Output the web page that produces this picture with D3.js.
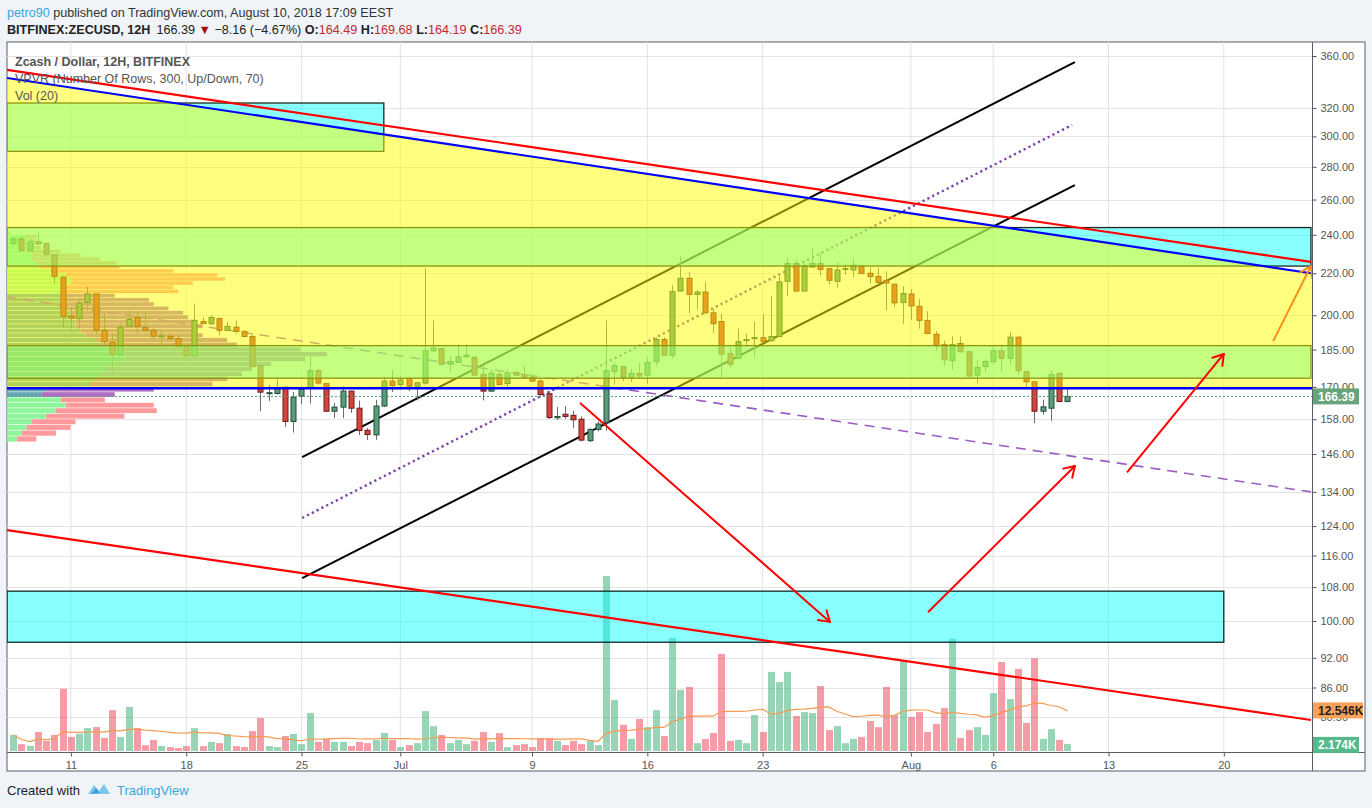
<!DOCTYPE html>
<html><head><meta charset="utf-8">
<script src="https://cdn.jsdelivr.net/npm/d3@7"></script>
<style>
body{margin:0;background:#f0f3f7;}
svg{display:block;font-family:"Liberation Sans",Arial,sans-serif;}
</style></head>
<body><svg id="c" width="1372" height="808"></svg>
<script>
// ---------------- DATA ----------------
const firstBar = "2018-06-07T12:00";
const barHours = 12;
// [open, high, low, close]
const candles = [
[235.3,239.3,234.1,237.9],[237.9,239.3,231.1,231.5],[231.5,237.5,231.1,236.2],[236.3,241.1,234.9,235.1],[235.3,236.3,228.5,229.7],
[229.4,229.6,214.9,218.4],[218.1,218.5,194.7,199.4],[199.7,203.8,194.0,198.8],[198.5,207.8,194.0,205.6],[205.9,213.3,202.2,209.9],
[209.9,210.0,191.6,193.3],[193.3,200.6,186.6,188.4],[188.0,191.9,175.0,182.9],[182.9,196.2,182.4,194.6],[195.0,202.2,194.7,198.1],
[199.0,201.4,191.9,195.0],[194.6,201.8,193.0,193.3],[193.3,194.7,189.5,190.7],[190.4,193.3,185.9,190.9],[190.7,191.9,188.8,189.7],
[189.7,191.9,185.9,186.3],[186.8,187.2,182.2,182.4],[182.4,205.4,182.0,197.7],[197.2,199.1,196.0,196.3],[196.2,200.1,195.4,199.0],
[198.5,199.1,191.0,193.3],[193.3,196.9,193.0,195.0],[194.7,197.7,191.9,192.8],[192.8,193.3,190.3,190.6],[190.6,191.6,177.8,178.0],
[178.4,178.6,160.9,168.0],[167.6,170.9,164.6,167.8],[167.5,173.0,167.1,169.6],[169.9,170.2,155.2,157.2],[157.2,168.1,153.3,166.1],
[166.5,170.3,163.4,169.1],[169.6,182.4,163.7,176.4],[176.4,177.3,170.9,171.5],[171.3,171.5,160.7,160.9],[160.9,164.0,158.4,162.4],
[162.4,170.3,158.4,168.4],[168.4,168.6,160.3,162.0],[162.0,164.8,152.4,154.0],[154.1,154.8,150.7,152.6],[152.5,165.1,150.7,162.8],
[162.8,173.9,162.5,172.3],[172.3,176.8,168.1,170.5],[170.9,174.3,169.0,172.7],[173.3,173.6,168.4,170.3],[170.3,171.8,164.9,171.6],
[171.5,222.5,170.9,184.5],[184.5,197.7,184.2,185.7],[185.4,185.8,178.5,179.0],[179.0,182.4,175.7,180.1],[179.7,187.1,179.4,182.0],
[182.0,187.1,181.8,182.7],[181.8,182.3,174.3,174.6],[174.9,178.4,164.9,168.4],[168.4,177.0,168.2,175.4],[174.9,176.4,170.7,170.9],
[171.3,177.0,169.6,175.5],[175.7,176.4,174.3,174.6],[174.9,178.4,173.5,173.7],[173.9,174.2,172.0,172.3],[172.3,173.0,166.5,167.1],
[167.4,168.4,158.1,158.6],[158.5,162.5,157.8,159.0],[159.8,162.8,158.1,159.0],[159.4,161.1,154.8,157.8],[158.0,159.0,150.2,150.7],
[150.5,154.8,150.0,154.4],[154.4,157.2,153.7,156.3],[156.8,197.7,153.9,176.4],[176.0,179.7,170.9,178.4],[178.0,178.4,172.3,173.7],
[173.7,177.0,172.0,175.3],[175.3,179.7,173.0,174.3],[174.6,181.8,171.2,179.7],[180.0,190.3,178.4,189.3],[189.3,190.3,182.4,182.7],
[182.7,214.1,181.4,211.0],[211.3,228.5,211.0,217.5],[217.5,220.5,201.0,209.7],[209.7,211.8,202.5,210.8],[210.8,215.7,200.8,201.1],
[201.1,203.0,192.2,196.2],[197.2,200.6,173.7,183.1],[183.4,185.9,177.7,179.0],[181.4,194.0,181.1,188.4],[188.8,191.9,186.2,189.3],
[189.7,197.2,181.8,190.1],[190.1,200.6,188.1,188.4],[188.8,209.1,188.1,190.6],[190.6,218.4,190.3,215.7],[216.0,228.0,208.9,224.9],
[224.9,227.1,211.0,211.3],[211.3,224.9,211.0,223.7],[223.1,232.7,222.8,224.9],[224.9,230.1,218.9,221.9],[222.3,222.6,214.4,216.5],
[216.0,225.4,212.9,221.6],[221.9,224.9,219.2,222.4],[221.6,227.5,218.1,224.0],[223.5,223.8,219.6,219.8],[220.0,222.8,214.9,218.4],
[218.4,222.8,214.5,215.4],[216.5,221.0,202.2,215.2],[214.6,214.9,203.5,205.7],[205.9,213.7,196.2,210.1],[209.9,212.2,197.9,204.3],
[204.1,207.5,194.0,197.7],[197.7,201.9,191.6,191.9],[191.6,192.9,184.7,186.6],[187.1,188.8,178.4,180.8],[180.4,190.7,176.8,187.1],
[187.6,190.6,183.8,184.1],[184.1,184.3,173.7,174.3],[174.6,180.8,171.3,177.7],[178.0,181.1,176.0,180.1],[180.0,186.6,179.0,184.5],
[184.5,187.1,176.1,181.4],[181.4,192.5,179.0,190.3],[190.3,191.0,175.0,176.4],[176.0,176.3,169.0,172.0],[172.0,172.4,156.6,160.9],
[160.9,165.2,159.6,162.5],[162.0,176.5,157.4,174.8],[175.3,175.7,164.4,164.5],[164.49,169.68,164.19,166.39]
];
// volume in thousands
const volumes = [
4.9,2.1,1.6,5.8,3.1,4.9,19.0,4.3,5.3,7.0,
7.3,4.0,12.5,4.3,13.5,7.0,1.8,3.4,1.5,1.2,
0.9,1.5,7.0,1.5,2.8,2.4,5.2,1.5,1.2,6.1,
10.1,1.5,1.2,4.6,5.2,2.1,11.6,2.8,3.7,2.8,
2.8,1.5,2.8,2.4,3.4,5.5,3.4,1.2,1.8,2.4,
12.2,7.6,4.9,2.4,3.4,2.1,3.1,5.8,2.8,5.5,
1.2,1.8,2.1,1.2,4.0,4.0,3.1,1.8,3.1,2.1,
3.1,1.8,53.5,15.6,8.0,3.7,9.8,7.3,12.5,4.6,
34.6,18.7,19.6,2.4,3.7,5.5,29.7,3.1,3.4,2.4,
11.0,5.8,24.2,21.1,24.2,10.7,11.9,11.6,19.9,6.4,
7.6,2.4,3.7,4.3,9.2,7.3,19.6,11.0,27.5,10.4,
11.9,5.8,8.3,13.1,34.3,4.0,6.4,7.3,4.9,17.7,
27.2,15.9,25.1,8.6,28.4,3.7,6.7,3.4,2.174
];
const volMaPeriod = 20;
// Visible-range volume profile (rows by price)
const vpPrices = [151,153,155,157,159,161,163,165,167,169,171,173,175,177,179,181,183,185,187,189,191,193,195,197,199,201,203,205,207,209,211,213,215,217,219,221,223,225,227,229,231,233,235,237,239,241];
const vpUp     = [10,15,20,25,40,50,60,55,35,40,85,90,95,100,110,120,120,110,95,90,80,75,70,70,65,65,60,60,60,60,60,60,65,65,60,45,35,30,25,25,20,18,18,22,20,3];
const vpDown   = [20,35,45,45,80,103,90,45,75,110,125,135,145,150,160,185,207,190,140,135,120,120,130,120,120,115,105,90,85,50,115,110,125,158,155,125,80,82,70,50,35,17,10,8,10,1];
const valueArea = [166, 210];

const timeTickDates = ["2018-06-11","2018-06-18","2018-06-25","2018-07-01","2018-07-09","2018-07-16","2018-07-23","2018-08-01","2018-08-06","2018-08-13","2018-08-20"];
const timeTickLabels = ["11","18","25","Jul","9","16","23","Aug","6","13","20"];
const priceTicks = [360,320,300,280,260,240,220,200,185,170,158,146,134,124,116,108,100,92,86,80.5];

// Drawings: [time1, price1, time2, price2]
const redTopLine    = ["2018-06-07T03:00",348.8,"2018-08-25T07:00",225.7];
const blueSlantLine = ["2018-06-07T03:00",342.5,"2018-08-25T07:00",220.0];
const redLowLine    = ["2018-06-07T03:00",122.9,"2018-08-25T07:00",79.9];
const purpleDashed  = ["2018-06-07T03:00",208.4,"2018-08-25T07:00",134.0];
const blackUpper    = ["2018-06-25T01:00",145.0,"2018-08-10T23:00",355.1];
const blackLower    = ["2018-06-25T01:00",110.2,"2018-08-10T23:00",268.7];
const purpleDotted  = ["2018-06-25T01:00",126.3,"2018-08-10T19:00",307.9];
const redArrows = [
  ["2018-07-11T22:00",163.9,"2018-07-27T02:00",99.8],
  ["2018-08-02T01:00",102.0,"2018-08-10T23:00",142.1],
  ["2018-08-14T03:00",140.1,"2018-08-20T00:00",183.2]
];
const orangeArrow = ["2018-08-23T00:00",188.6,"2018-08-25T07:00",223.6];
const supportLevel = 169.5;
const lastPrice = 166.39;
// Zones: [time1, time2, priceTop, priceBottom]
const cyanBands   = [["2018-06-07T03:00","2018-08-25T07:00",244.0,223.6],["2018-06-07T03:00","2018-08-25T07:00",186.7,173.4]];
const topLeftBox  = ["2018-06-07T03:00","2018-06-30T00:00",323.6,290.0];
const lowerCyanBox= ["2018-06-07T03:00","2018-08-20T00:00",107.0,95.3];

const headerUser = "petro90";
const headerText = " published on TradingView.com, August 10, 2018 17:09 EEST";
const symbolText = "BITFINEX:ZECUSD, 12H";
const changeText = "166.39";
const changeText2 = "\u22128.16 (\u22124.67%)";
const ohlcLabels = [["O:","164.49"],["H:","169.68"],["L:","164.19"],["C:","166.39"]];
const legendLines = ["Zcash / Dollar, 12H, BITFINEX","VPVR (Number Of Rows, 300, Up/Down, 70)","Vol (20)"];
const volMaLabel = "12.546K";
const lastVolLabel = "2.174K";

// ---------------- SCALES ----------------
const L=7, R=1312, T=42, B=752;
const pt = s => new Date(s);
const x = d3.scaleTime().domain([pt("2018-06-11T00:00"), pt("2018-08-20T00:00")]).range([70.9, 1223.8]);
const y = d3.scaleLog().domain([100,360]).range([621,56]);
const yv = d3.scaleLinear().domain([0,10]).range([751, 751-32.7]);
const barTime = i => new Date(pt(firstBar).getTime() + i*barHours*3600e3);

const svg = d3.select("#c");
const defs = svg.append("defs");
defs.append("clipPath").attr("id","plot").append("rect").attr("x",L).attr("y",T).attr("width",R-L).attr("height",B-T);

// frame
svg.append("rect").attr("x",L).attr("y",T).attr("width",1365-L).attr("height",771-T).attr("fill","#fff").attr("stroke","#5b5e66").attr("stroke-width",1);

const plot = svg.append("g").attr("clip-path","url(#plot)");

// grid
plot.append("g").selectAll("line").data(timeTickDates).join("line")
  .attr("x1",d=>x(pt(d+"T00:00"))).attr("x2",d=>x(pt(d+"T00:00"))).attr("y1",T).attr("y2",B)
  .attr("stroke","#e3e3e3").attr("stroke-width",1);
plot.append("g").selectAll("line").data(priceTicks).join("line")
  .attr("x1",L).attr("x2",R).attr("y1",d=>Math.round(y(d))+0.5).attr("y2",d=>Math.round(y(d))+0.5)
  .attr("stroke","#e3e3e3").attr("stroke-width",1);

// volume profile
const vpTot = vpUp.map((u,i)=>u+vpDown[i]);
const wv = d3.scaleLinear().domain([0,d3.max(vpTot)]).range([0,320]);
const vpG = plot.append("g");
vpPrices.forEach((p,i)=>{
  const y0 = y(p+1), y1 = y(p-1);
  const inVA = p>=valueArea[0] && p<=valueArea[1];
  vpG.append("rect").attr("x",L).attr("y",y0).attr("width",wv(vpUp[i])).attr("height",Math.max(1,y1-y0-0.6))
    .attr("fill", inVA ? "#62a6b3" : "#8ff59b");
  vpG.append("rect").attr("x",L+wv(vpUp[i])).attr("y",y0).attr("width",wv(vpDown[i])).attr("height",Math.max(1,y1-y0-0.6))
    .attr("fill", inVA ? "#b06dc4" : "#ff9a9c");
});

// line helper
function seg(g, d, color, w, dash, cap){
  return g.append("line").attr("x1",x(pt(d[0]))).attr("y1",y(d[1])).attr("x2",x(pt(d[2]))).attr("y2",y(d[3]))
    .attr("stroke",color).attr("stroke-width",w).attr("stroke-dasharray",dash||null).attr("stroke-linecap", cap||"butt");
}
// lines under zones
seg(plot, blackUpper, "#000", 2);
seg(plot, blackLower, "#000", 2);
seg(plot, purpleDotted, "#7a3fa8", 2.4, "2.2,3.2");
seg(plot, purpleDashed, "#9b5cc4", 1.6, "10,7");

// candles
const cw = 5;
const cg = plot.append("g");
candles.forEach((c,i)=>{
  const cx = Math.round(x(barTime(i)))+0.5;
  const up = c[3]>=c[0];
  cg.append("line").attr("x1",cx).attr("x2",cx).attr("y1",y(c[1])).attr("y2",y(c[2])).attr("stroke","#6d6d6d").attr("stroke-width",1);
  const top = y(Math.max(c[0],c[3])), bot = y(Math.min(c[0],c[3]));
  cg.append("rect").attr("x",cx-cw/2).attr("y",top).attr("width",cw).attr("height",Math.max(1,bot-top))
    .attr("fill",up?"#5a9c79":"#d4453a").attr("stroke",up?"#1f4f37":"#6e1a1a").attr("stroke-width",1);
});

// zones
function zone(g, z, fill, stroke){
  const x0=x(pt(z[0])), x1=x(pt(z[1])), y0=y(z[2]), y1=y(z[3]);
  g.append("rect").attr("x",x0).attr("y",y0).attr("width",x1-x0).attr("height",y1-y0)
    .attr("fill",fill).attr("stroke",stroke||"none").attr("stroke-width",1.3);
}
cyanBands.forEach(b=>zone(plot, b, "rgba(0,255,255,0.46)", "#1d2a1a"));
zone(plot, topLeftBox, "rgba(0,255,255,0.46)", "#1d2a1a");

// yellow area: below the blue slanted line, above the horizontal support line
(function(){
  const bx1=x(pt(blueSlantLine[0])), by1=y(blueSlantLine[1]), bx2=x(pt(blueSlantLine[2])), by2=y(blueSlantLine[3]);
  const at = xx => by1 + (by2-by1)*(xx-bx1)/(bx2-bx1);
  const ys = y(supportLevel);
  plot.append("path").attr("d",`M${L},${at(L)}L${R},${at(R)}L${R},${ys}L${L},${ys}Z`).attr("fill","rgba(255,255,0,0.5)");
})();

// volume
const vg = plot.append("g");
volumes.forEach((v,i)=>{
  const cx = Math.round(x(barTime(i)))+0.5;
  const up = candles[i][3]>=candles[i][0];
  vg.append("rect").attr("x",cx-3.5).attr("y",yv(v)).attr("width",7).attr("height",yv(0)-yv(v))
    .attr("fill",up?"rgba(83,185,135,0.6)":"rgba(235,77,92,0.55)");
});
const ma = volumes.map((v,i)=>{ const s=volumes.slice(Math.max(0,i-volMaPeriod+1),i+1); return d3.mean(s); });
plot.append("path").datum(ma).attr("d", d3.line().x((d,i)=>x(barTime(i))).y(d=>yv(d)))
  .attr("fill","none").attr("stroke","#f89a50").attr("stroke-width",1.2);

// lower cyan box
zone(plot, lowerCyanBox, "rgba(0,255,255,0.46)", "#0b2a2a");

// red/blue lines above
seg(plot, redTopLine, "#ff0000", 2.2);
seg(plot, blueSlantLine, "#0000ff", 2.2);
seg(plot, redLowLine, "#ff0000", 2.2);
plot.append("line").attr("x1",L).attr("x2",R).attr("y1",y(supportLevel)).attr("y2",y(supportLevel)).attr("stroke","#0000ff").attr("stroke-width",2.6);
plot.append("line").attr("x1",L).attr("x2",R).attr("y1",y(lastPrice)).attr("y2",y(lastPrice)).attr("stroke","#4f9b75").attr("stroke-width",1).attr("stroke-dasharray","2,2");

function arrow(g, d, color){
  const x1=x(pt(d[0])), y1=y(d[1]), x2=x(pt(d[2])), y2=y(d[3]);
  g.append("line").attr("x1",x1).attr("y1",y1).attr("x2",x2).attr("y2",y2).attr("stroke",color).attr("stroke-width",2);
  const a = Math.atan2(y2-y1,x2-x1), h=12;
  [a+Math.PI*0.82, a-Math.PI*0.82].forEach(b=>{
    g.append("line").attr("x1",x2).attr("y1",y2).attr("x2",x2+h*Math.cos(b)).attr("y2",y2+h*Math.sin(b)).attr("stroke",color).attr("stroke-width",2).attr("stroke-linecap","round");
  });
}
redArrows.forEach(a=>arrow(plot,a,"#ff0000"));
arrow(plot, orangeArrow, "#ff8c1a");

// legend
legendLines.forEach((t,i)=>{
  svg.append("text").attr("x",15).attr("y",65.5+i*17).attr("font-size",12.5)
    .attr("font-weight",i===0?"bold":"normal").attr("fill","#555").text(t);
});

// axes
svg.append("line").attr("x1",R+0.5).attr("x2",R+0.5).attr("y1",T).attr("y2",771).attr("stroke","#5b5e66");
svg.append("line").attr("x1",L).attr("x2",1365).attr("y1",B+0.5).attr("y2",B+0.5).attr("stroke","#5b5e66");
const yAxis = d3.axisRight(y).tickValues(priceTicks).tickFormat(d3.format(".2f")).tickSize(4).tickPadding(4);
const ya = svg.append("g").attr("transform",`translate(${R+0.5},0)`).call(yAxis);
ya.select(".domain").remove();
ya.selectAll("text").attr("font-size",11).attr("fill","#555").attr("font-family","Liberation Sans, Arial");
ya.selectAll("line").attr("stroke","#555");
const xAxis = d3.axisBottom(x).tickValues(timeTickDates.map(d=>pt(d+"T00:00"))).tickFormat((d,i)=>timeTickLabels[i]).tickSize(4).tickPadding(5);
const xa = svg.append("g").attr("transform",`translate(0,${B+0.5})`).call(xAxis);
xa.select(".domain").remove();
xa.selectAll("text").attr("font-size",11).attr("fill","#555").attr("font-family","Liberation Sans, Arial");
xa.selectAll("line").attr("stroke","#555");

// price labels
function tag(yc, text, fill, color, w){
  svg.append("rect").attr("x",R+1).attr("y",yc-8).attr("width",w).attr("height",16).attr("fill",fill);
  svg.append("text").attr("x",R+6).attr("y",yc+4.5).attr("font-size",12).attr("font-weight","bold").attr("fill",color).text(text);
}
tag(y(lastPrice), lastPrice.toFixed(2), "#67a47e", "#fff", 46);
tag(yv(d3.mean(volumes.slice(-20)))-0.5, volMaLabel, "#f9a15a", "#222", 50);
tag(yv(volumes[volumes.length-1])+1, lastVolLabel, "#55b98a", "#fff", 46);

// header
const h1 = svg.append("text").attr("x",7).attr("y",16.5).attr("font-size",12.6);
h1.append("tspan").attr("fill","#38a7e0").text(headerUser);
h1.append("tspan").attr("fill","#333").text(headerText);
const h2 = svg.append("text").attr("x",7).attr("y",33.5).attr("font-size",12.6).attr("fill","#222");
h2.append("tspan").attr("font-weight","bold").text(symbolText);
h2.append("tspan").attr("dx",6).text(changeText+" ");
h2.append("tspan").attr("fill","#a01010").text("\u25BC");
h2.append("tspan").text(" "+changeText2+" ");
ohlcLabels.forEach(([k,v])=>{
  h2.append("tspan").attr("font-weight","bold").text(" "+k);
  h2.append("tspan").attr("fill","#c0292f").text(v);
});

// footer
svg.append("text").attr("x",7).attr("y",795).attr("font-size",13).attr("fill","#222").text("Created with");
const lg = svg.append("g").attr("transform","translate(88,782)");
lg.append("path").attr("d","M0,12 L6,3 L11,9 L16,2 L22,12 Z").attr("fill","#7cc8ea");
lg.append("path").attr("d","M3,12 L8,6 L12,11 Z").attr("fill","#3a9fd8");
svg.append("text").attr("x",117).attr("y",795).attr("font-size",13).attr("fill","#3aa6dc").text("TradingView");
</script></body></html>
